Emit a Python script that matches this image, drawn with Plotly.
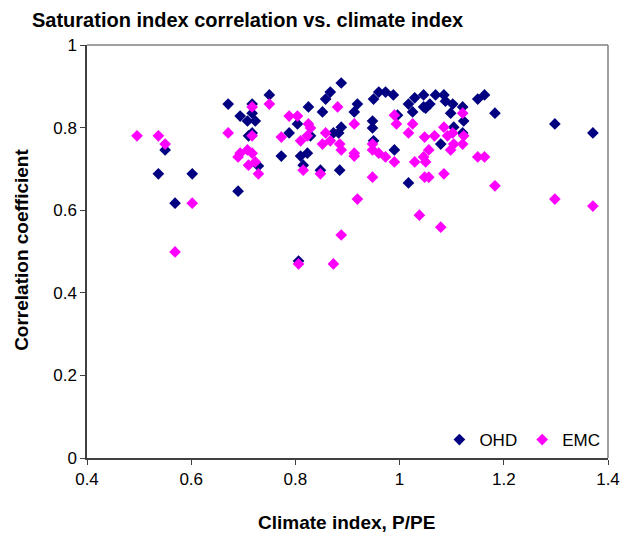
import plotly.graph_objects as go

ohd_x = [0.550, 0.537, 0.602, 0.569, 0.671, 0.690, 0.717, 0.694, 0.717, 0.708,
         0.723, 0.717, 0.710, 0.729, 0.750, 0.888, 0.867, 0.858, 0.825, 0.852,
         0.804, 0.788, 0.873, 0.883, 0.888, 0.829, 0.823, 0.810, 0.773, 0.815,
         0.848, 0.885, 0.919, 0.913, 0.950, 0.960, 0.973, 0.988, 0.948, 0.948,
         0.950, 0.990, 1.017, 1.017, 1.025, 1.029, 1.046, 1.050, 0.996, 1.069,
         1.085, 1.058, 1.088, 1.102, 1.121, 1.098, 1.123, 1.104, 1.121, 1.079,
         1.150, 1.163, 1.183, 1.298, 1.371, 0.806, 1.046]
ohd_y = [0.746, 0.688, 0.688, 0.617, 0.857, 0.646, 0.857, 0.828, 0.835, 0.816,
         0.816, 0.787, 0.780, 0.707, 0.879, 0.908, 0.886, 0.869, 0.850, 0.838,
         0.809, 0.787, 0.787, 0.787, 0.801, 0.780, 0.738, 0.731, 0.731, 0.709,
         0.697, 0.697, 0.857, 0.838, 0.869, 0.886, 0.886, 0.879, 0.816, 0.799,
         0.768, 0.746, 0.666, 0.857, 0.838, 0.872, 0.879, 0.847, 0.830, 0.879,
         0.879, 0.857, 0.864, 0.857, 0.850, 0.835, 0.816, 0.801, 0.787, 0.760,
         0.869, 0.879, 0.835, 0.809, 0.787, 0.477, 0.850]

emc_x = [0.496, 0.537, 0.550, 0.602, 0.569, 0.671, 0.717, 0.717, 0.708, 0.717,
         0.694, 0.690, 0.723, 0.710, 0.729, 0.750, 0.773, 0.788, 0.804, 0.825,
         0.829, 0.810, 0.823, 0.852, 0.858, 0.867, 0.881, 0.885, 0.888, 0.815,
         0.848, 0.913, 0.913, 0.913, 0.919, 0.948, 0.948, 0.960, 0.973, 0.990,
         0.948, 0.990, 0.994, 1.017, 1.025, 1.029, 1.048, 1.046, 1.050, 1.048,
         1.056, 1.056, 1.121, 1.085, 1.067, 1.092, 1.102, 1.123, 1.121, 1.104,
         1.098, 1.085, 1.150, 1.163, 1.183, 1.298, 1.371, 1.038, 1.079, 0.888,
         0.873, 0.806]
emc_y = [0.780, 0.780, 0.760, 0.617, 0.499, 0.787, 0.850, 0.780, 0.746, 0.738,
         0.738, 0.729, 0.717, 0.709, 0.688, 0.857, 0.777, 0.828, 0.828, 0.809,
         0.799, 0.768, 0.780, 0.760, 0.787, 0.768, 0.850, 0.760, 0.746, 0.697,
         0.688, 0.809, 0.738, 0.731, 0.627, 0.760, 0.746, 0.738, 0.729, 0.717,
         0.680, 0.830, 0.809, 0.787, 0.809, 0.717, 0.777, 0.729, 0.717, 0.680,
         0.746, 0.680, 0.835, 0.801, 0.780, 0.780, 0.787, 0.780, 0.760, 0.760,
         0.746, 0.688, 0.729, 0.729, 0.659, 0.627, 0.610, 0.588, 0.559, 0.540,
         0.470, 0.470]

x_ticks = [0.4, 0.6, 0.8, 1.0, 1.2, 1.4]
x_tick_labels = ["0.4", "0.6", "0.8", "1", "1.2", "1.4"]
y_ticks = [0, 0.2, 0.4, 0.6, 0.8, 1.0]
y_tick_labels = ["0", "0.2", "0.4", "0.6", "0.8", "1"]

FONT = "Liberation Sans, Arial, sans-serif"

fig = go.Figure()
fig.add_trace(go.Scatter(x=ohd_x, y=ohd_y, mode="markers", name="OHD",
                         marker=dict(symbol="diamond", size=9, color="#000080")))
fig.add_trace(go.Scatter(x=emc_x, y=emc_y, mode="markers", name="EMC",
                         marker=dict(symbol="diamond", size=9, color="#FF00FF")))

fig.update_layout(
    width=625, height=535,
    margin=dict(l=87, r=17, t=45, b=77),
    paper_bgcolor="white", plot_bgcolor="white",
    font=dict(family=FONT, size=17, color="black"),
    title=dict(text="<b>Saturation index correlation vs. climate index</b>",
               x=32/625, xref="container", xanchor="left",
               y=1-20/535, yref="container", yanchor="middle",
               font=dict(family=FONT, size=20, color="black")),
    showlegend=True,
    legend=dict(orientation="h", x=0.995, y=0.0, xanchor="right", yanchor="bottom",
                bgcolor="rgba(0,0,0,0)", font=dict(family=FONT, size=17),
                itemwidth=30, tracegroupgap=0),
    xaxis=dict(range=[0.4, 1.4], tickvals=x_ticks, ticktext=x_tick_labels,
               showgrid=False, zeroline=False, showline=True, linecolor="#404040",
               linewidth=1.5, ticks="outside", ticklen=5, tickcolor="#404040",
               tickfont=dict(size=17), automargin=False),
    yaxis=dict(range=[0, 1], tickvals=y_ticks, ticktext=y_tick_labels,
               showgrid=False, zeroline=False, showline=True, linecolor="#404040",
               linewidth=1.5, ticks="outside", ticklen=5, tickcolor="#404040",
               tickfont=dict(size=17), automargin=False),
    shapes=[
        dict(type="line", xref="x domain", yref="y domain", x0=0, x1=1, y0=1, y1=1,
             line=dict(color="#808080", width=1.5)),
        dict(type="line", xref="x domain", yref="y domain", x0=1, x1=1, y0=0, y1=1,
             line=dict(color="#808080", width=1.5)),
    ],
    annotations=[
        dict(text="<b>Correlation coefficient</b>", xref="paper", yref="paper",
             x=(22-87)/521, y=0.504, textangle=-90, showarrow=False,
             xanchor="center", yanchor="middle", font=dict(family=FONT, size=19)),
        dict(text="<b>Climate index, P/PE</b>", xref="paper", yref="paper",
             x=0.499, y=(458-522)/413, showarrow=False,
             xanchor="center", yanchor="middle", font=dict(family=FONT, size=19)),
    ],
)

fig.write_html("out.html", config={"displayModeBar": False},
               post_script="document.body.style.margin='0';document.body.style.overflow='hidden';")
